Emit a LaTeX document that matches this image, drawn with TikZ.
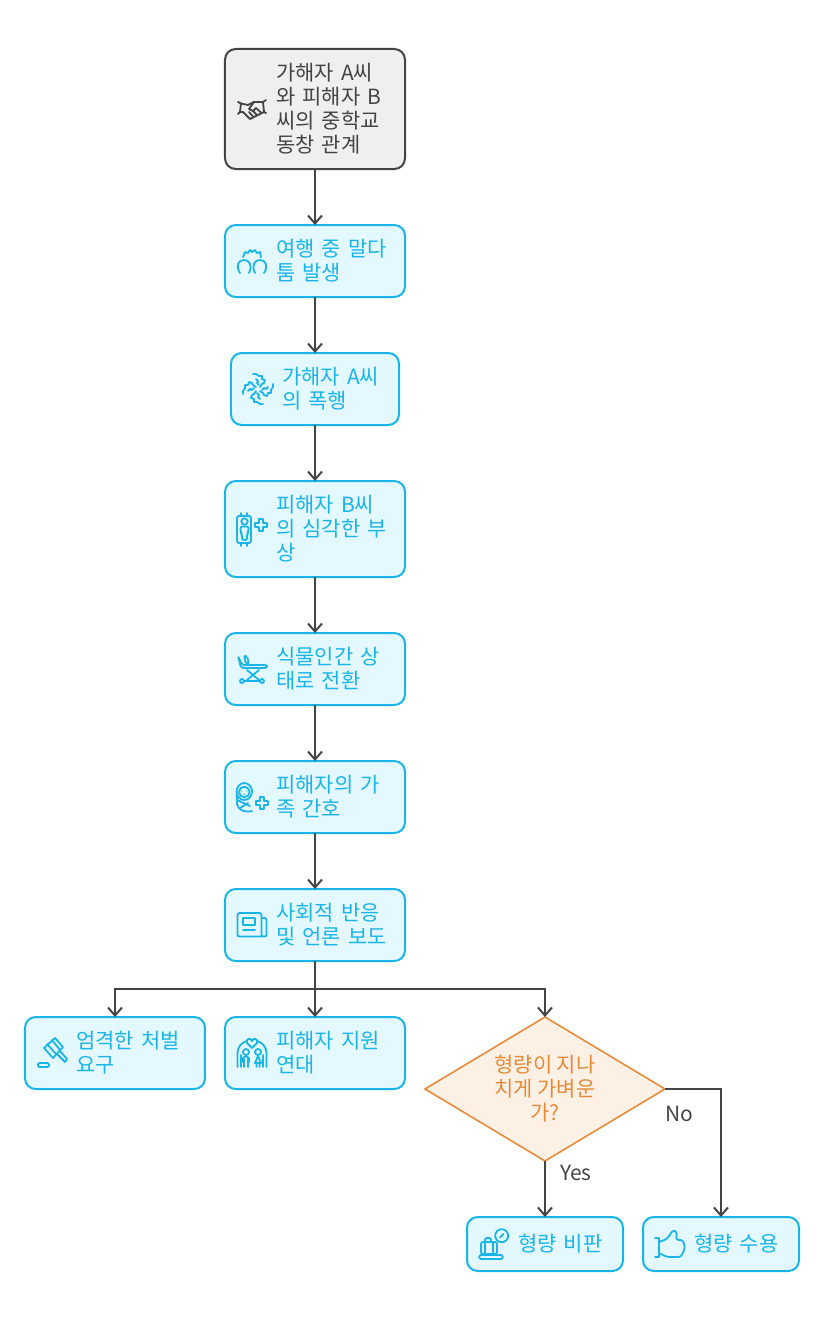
\documentclass[tikz,border=0pt]{standalone}
\usepackage{fontspec}
\setmainfont{Noto Sans CJK KR}
\definecolor{linegray}{HTML}{444444}
\definecolor{startfill}{HTML}{EFEFEF}
\definecolor{boxblue}{HTML}{19B5E6}
\definecolor{boxfill}{HTML}{E4F8FF}
\definecolor{askorange}{HTML}{E48B38}
\definecolor{askfill}{HTML}{FDF0E5}
\usetikzlibrary{
  arrows.meta,
  positioning,
  shapes.geometric,
}

\begin{document}
\begin{tikzpicture}[
  node distance=42pt and 15pt,
  box/.style={rectangle, draw=boxblue, fill=boxfill, text=boxblue, line width=1.5pt, rounded corners=8pt, outer sep=0pt,
    minimum width=135pt, minimum height=54pt, text width=135pt, inner sep=0pt, align=left,
    font=\fontsize{15.7}{18}\selectfont, execute at begin node={\leftskip=38.5pt}},
  startbox/.style={box, draw=linegray, fill=startfill, text=linegray, minimum height=90pt},
  smallbox/.style={box, minimum width=117pt, text width=117pt, minimum height=40.5pt},
  ask/.style={diamond, draw=askorange, fill=askfill, text=askorange, line width=1.2pt, aspect=1.667, outer sep=0pt,
    minimum width=180pt, minimum height=108pt, inner sep=0pt, align=center, font=\fontsize{15.7}{18}\selectfont},
  arr/.style={-{Straight Barb[length=6pt, width=10.5pt]}, line width=1.5pt, color=linegray},
  tag/.style={text=linegray, font=\fontsize{15.7}{18}\selectfont, inner sep=0pt},
  icon/.style={color=boxblue, line width=1.35pt, line join=round, line cap=round, x=0.75pt, y=-0.75pt},
  pics/handshake/.style={code={
    \draw (-14,-7) -- (-11,-5.5) -- (-12,3) -- (-14,5);
    \draw (14,-9) -- (11,-7) -- (12,3) -- (14,4);
    \draw (-11,-5.5) -- (-4,-4) -- (2,-7) -- (11,-7);
    \draw (-12,3) -- (-9,3) -- (-2,10) -- (6,6) -- (12,3);
    \draw (2,-7) -- (-3,0) -- (1,2) -- (4,-1) -- (9,3.5);
    \draw (-3,3) -- (1,7.5);
    \draw (1,2) -- (5,6);
  }},
  pics/quarrel/.style={code={
    \draw (-12,12) .. controls (-17,4) and (-13,-1) .. (-8,-1) .. controls (-3,-1) and (1,4) .. (-3,12);
    \draw (12,12) .. controls (17,4) and (13,-1) .. (8,-1) .. controls (3,-1) and (-1,4) .. (3,12);
    \draw (-9,-4) -- (-7,-9) -- (-4,-8) -- (-2,-11) -- (0,-9) -- (3,-11) -- (5,-8) -- (8,-9) -- (9,-4);
  }},
  pics/fight/.style={code={
    \foreach \turn in {0,90,180,270} {
      \draw[rotate=\turn] (-5,-15) -- (-2,-15) -- (1,-13) -- (4,-13) -- (4,-10) -- (7,-9) -- (6,-6) -- (4,-5) -- (2,-2);
      \draw[rotate=\turn] (-2,-10) -- (0,-8) -- (-1,-6) -- (1,-4);
    }
  }},
  pics/patient/.style={code={
    \draw[rounded corners=1.5pt] (-15,-13) rectangle (-1,14);
    \draw (-11,-13) -- (-11,-16) (-5,-13) -- (-5,-16) (-11,14) -- (-11,17) (-5,14) -- (-5,17);
    \draw (-7.5,-7.5) circle[radius=3.2];
    \draw[rounded corners=1.5pt] (-11.5,3) -- (-11.5,-2.5) -- (-3.5,-2.5) -- (-3.5,3) -- (-5,5) -- (-5,11) -- (-10,11) -- (-10,5) -- cycle;
    \draw[shift={(9,-4)}] (-2,-6) -- (2,-6) -- (2,-2) -- (6,-2) -- (6,2) -- (2,2) -- (2,6) -- (-2,6) -- (-2,2) -- (-6,2) -- (-6,-2) -- (-2,-2) -- cycle;
  }},
  pics/sickbed/.style={code={
    \draw[rounded corners=1.5pt] (-14,-13) -- (-10,-4) -- (15,-4) -- (15,-1) -- (-11,-1) -- cycle;
    \draw[rounded corners=1.5pt] (-8,-13) -- (-5,-13) -- (-3,-5) -- (-6,-5) -- cycle;
    \draw (-5,1) -- (7,11) (7,1) -- (-5,11);
    \draw (-8,12) -- (8,12);
    \draw (-10,12) circle[radius=2] (10,12) circle[radius=2];
  }},
  pics/baby/.style={code={
    \draw (-7.7,-5.5) ellipse[x radius=7.7, y radius=8.5];
    \draw (-7.7,-5) circle[radius=5.3];
    \fill (-10,-6) circle[radius=0.7] (-5.5,-6) circle[radius=0.7] (-7.7,-2.5) circle[radius=0.8];
    \draw (-15.2,-3) -- (-15,7) .. controls (-14,13) and (-7,16) .. (0,14);
    \draw (-15,3) -- (-2,9) (-12,11) -- (-4,6);
    \draw[shift={(10,6)}] (-2,-6) -- (2,-6) -- (2,-2) -- (6,-2) -- (6,2) -- (2,2) -- (2,6) -- (-2,6) -- (-2,2) -- (-6,2) -- (-6,-2) -- (-2,-2) -- cycle;
  }},
  pics/newspaper/.style={code={
    \draw[rounded corners=1.5pt] (9.5,11.5) -- (-14.5,11.5) -- (-14.5,-12) -- (9.5,-12) -- (9.5,11.5) -- (14.5,11.5) -- (14.5,-7) -- (9.5,-7);
    \draw (-9,-7) rectangle (3,0);
    \draw (-9,5) -- (3,5);
  }},
  pics/gavel/.style={code={
    \draw (-8,-5) -- (3,-15) -- (11,-6) -- (1,5) -- cycle;
    \draw (-5,-9) -- (4,1) (0,-13) -- (8,-3);
    \draw (5,1) -- (13,9) (8,-2) -- (15,6) (13,9) -- (15,6);
    \draw[rounded corners=1pt] (-14,10) rectangle (-3,14);
  }},
  pics/couple/.style={code={
    \draw (-14.5,14) -- (-14.5,0) .. controls (-14.5,-6) and (-10,-11) .. (-5,-12);
    \draw (14.5,14) -- (14.5,0) .. controls (14.5,-6) and (10,-11) .. (5,-12);
    \draw (-11,14) -- (-11,2) (11,14) -- (11,2);
    \draw (0,-5) -- (-5,-10) .. controls (-7,-14) and (-1,-16) .. (0,-12) .. controls (1,-16) and (7,-14) .. (5,-10) -- cycle;
    \draw (-6,-1) circle[radius=3] (6,-1) circle[radius=3];
    \draw (-6,3) -- (-9,5) -- (-9,9) (-6,3) -- (-3,5) -- (-3,9) (-8,6) -- (-8,14) (-4,6) -- (-4,14);
    \draw (6,3) -- (3,10) -- (9,10) -- cycle (4.5,10) -- (4.5,14) (7.5,10) -- (7.5,14);
  }},
  pics/lightscale/.style={code={
    \draw (7.7,-8.3) circle[radius=6.5];
    \draw (6,-6.5) -- (9.5,-10);
    \draw[rounded corners=1.5pt] (-13,-2) rectangle (3,10);
    \draw (-9,-2) -- (-9,10) (-1,-2) -- (-1,10);
    \draw[rounded corners=1pt] (-9,-2) -- (-9,-6) -- (-3,-6) -- (-3,-2);
    \draw[rounded corners=1pt] (-14.7,11) rectangle (8.7,15);
  }},
  pics/thumb/.style={code={
    \draw (-15,-6) -- (-11,-6) -- (-11,13) -- (-15,13);
    \draw[rounded corners=2pt] (-11,-2) -- (-3,-5) -- (3,-14) -- (7,-12) -- (6,-4) -- (13,-4) -- (15,4) -- (11,13) -- (-3,13) -- (-11,9);
  }},
]
  \useasboundingbox (-236.25pt,81.75pt) rectangle (381.75pt,-908.25pt);

  % Main chain
  \node[startbox] (start) {가해자 A씨\\와 피해자 B\\씨의 중학교\\동창 관계};
  \node[box, below=of start] (dispute) {여행 중 말다\\툼 발생};
  \node[box, below=of dispute, minimum width=126pt, text width=126pt] (assault) {가해자 A씨\\의 폭행};
  \node[box, below=of assault, minimum height=72pt] (injury) {피해자 B씨\\의 심각한 부\\상};
  \node[box, below=of injury] (coma) {식물인간 상\\태로 전환};
  \node[box, below=of coma] (care) {피해자의 가\\족 간호};
  \node[box, below=of care] (media) {사회적 반응\\및 언론 보도};

  % Reactions
  \node[box, below=of media] (support) {피해자 지원\\연대};
  \node[box, left=of support] (punish) {엄격한 처벌\\요구};
  \node[ask, right=of support.east, yshift=-27pt] (verdict) {형량이 지나\\치게 가벼운\\가?};

  % Outcomes
  \node[smallbox, below=of verdict] (harsh) {형량 비판};
  \node[smallbox, right=of harsh] (accept) {형량 수용};

  % Arrows
  \draw[arr] (start) -- (dispute);
  \draw[arr] (dispute) -- (assault);
  \draw[arr] (assault) -- (injury);
  \draw[arr] (injury) -- (coma);
  \draw[arr] (coma) -- (care);
  \draw[arr] (care) -- (media);

  \draw[arr] (media.south) -- ++(0,-21pt) -| (punish);
  \draw[arr] (media) -- (support);
  \draw[arr] (media.south) -- ++(0,-21pt) -| (verdict);

  \draw[arr] (verdict) -- node[tag, pos=0.21, right=10.5pt] (yes) {Yes} (harsh);
  \draw[arr] (verdict.east) -| node[tag, pos=0.13, below=12pt] (no) {No} (accept);

  % Icons
  \pic[icon, color=linegray] at ([xshift=20.25pt]start.west) {handshake};
  \pic[icon] at ([xshift=20.25pt]dispute.west) {quarrel};
  \pic[icon] at ([xshift=20.25pt]assault.west) {fight};
  \pic[icon] at ([xshift=20.25pt]injury.west) {patient};
  \pic[icon] at ([xshift=20.25pt]coma.west) {sickbed};
  \pic[icon] at ([xshift=20.25pt]care.west) {baby};
  \pic[icon] at ([xshift=20.25pt]media.west) {newspaper};
  \pic[icon] at ([xshift=20.25pt]punish.west) {gavel};
  \pic[icon] at ([xshift=20.25pt]support.west) {couple};
  \pic[icon] at ([xshift=20.25pt]harsh.west) {lightscale};
  \pic[icon] at ([xshift=20.25pt]accept.west) {thumb};

\end{tikzpicture}
\end{document}
